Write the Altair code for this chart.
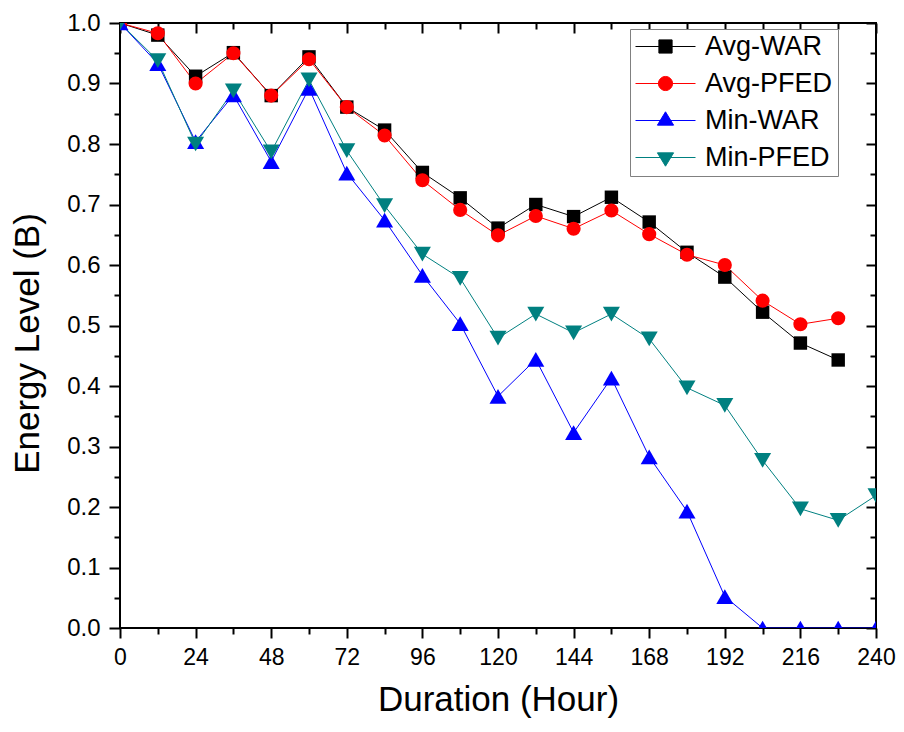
import altair as alt
import pandas as pd

hours = [0, 12, 24, 36, 48, 60, 72, 84, 96, 108, 120, 132, 144, 156, 168, 180, 192, 204, 216, 228, 240]
avg_war = [1.0, 0.98, 0.912, 0.951, 0.88, 0.944, 0.861, 0.823, 0.753, 0.711, 0.661, 0.70, 0.68, 0.712, 0.671, 0.621, 0.58, 0.522, 0.471, 0.443]
avg_pfed = [1.0, 0.983, 0.90, 0.95, 0.88, 0.94, 0.861, 0.814, 0.74, 0.691, 0.649, 0.681, 0.66, 0.69, 0.651, 0.617, 0.60, 0.541, 0.502, 0.512]
min_war = [1.0, 0.933, 0.804, 0.881, 0.771, 0.892, 0.752, 0.674, 0.583, 0.503, 0.383, 0.444, 0.323, 0.413, 0.283, 0.193, 0.052, 0.0, 0.0, 0.0, 0.0]
min_pfed = [1.0, 0.938, 0.80, 0.888, 0.787, 0.906, 0.789, 0.698, 0.618, 0.578, 0.479, 0.519, 0.488, 0.519, 0.478, 0.397, 0.368, 0.277, 0.197, 0.178, 0.219]

series_names = ["Avg-WAR", "Avg-PFED", "Min-WAR", "Min-PFED"]
series_values = [avg_war, avg_pfed, min_war, min_pfed]
series_colors = ["#000000", "#ff0000", "#0000ff", "#008080"]
series_shapes = ["square", "circle", "triangle-up", "triangle-down"]
series_sizes = [180, 200, 290, 290]

x_major = [0, 24, 48, 72, 96, 120, 144, 168, 192, 216, 240]
x_minor = [12, 36, 60, 84, 108, 132, 156, 180, 204, 228]
y_major = [0.0, 0.1, 0.2, 0.3, 0.4, 0.5, 0.6, 0.7, 0.8, 0.9, 1.0]
y_minor = [0.05, 0.15, 0.25, 0.35, 0.45, 0.55, 0.65, 0.75, 0.85, 0.95]

rows = []
for k, (name, vals) in enumerate(zip(series_names, series_values)):
    for i, v in enumerate(vals):
        rows.append({"series": name, "k": k, "hour": hours[i], "energy": v})
df = pd.DataFrame(rows)

FONT = "Liberation Sans"

# legend symbols: line segment + marker (unit square -1..1 path)
P_SQ = "M-1,0L1,0M-0.22,-0.22L0.22,-0.22L0.22,0.22L-0.22,0.22Z"
P_CI = "M-1,0L1,0M-0.235,0A0.235,0.235,0,1,0,0.235,0A0.235,0.235,0,1,0,-0.235,0Z"
P_TU = "M-1,0L1,0M0,-0.29L0.27,0.155L-0.27,0.155Z"
P_TD = "M-1,0L1,0M0,0.29L0.27,-0.155L-0.27,-0.155Z"
shape_expr = (
    "datum.value == 'Avg-WAR' ? '" + P_SQ + "' : datum.value == 'Avg-PFED' ? '" + P_CI +
    "' : datum.value == 'Min-WAR' ? '" + P_TU + "' : '" + P_TD + "'"
)
col_expr = "scale('color', datum.value)"

legend = alt.Legend(
    title=None, orient="none", legendX=510, legendY=6,
    symbolType={"expr": shape_expr},
    symbolFillColor={"expr": col_expr},
    symbolStrokeColor={"expr": col_expr},
    symbolSize=3600, symbolStrokeWidth=1, symbolOffset=0, symbolOpacity=1,
    labelFont=FONT, labelFontSize=27, labelColor="black", labelOffset=9,
    padding=5, rowPadding=9, clipHeight=25,
    strokeColor="#808080", fillColor="white", cornerRadius=0,
)

xs = alt.Scale(domain=[0, 240], nice=False, zero=False)
ys = alt.Scale(domain=[0, 1], nice=False, zero=False)
color = alt.Color("series:N", scale=alt.Scale(domain=series_names, range=series_colors), legend=legend)

common_axis = dict(grid=False, domain=False, tickColor="black", tickWidth=2)

x_axes = [
    alt.Axis(orient="bottom", values=x_major, format="d", tickSize=10, labelPadding=8,
             labelFont=FONT, labelFontSize=23, labelColor="black", labelFlush=False, labelOverlap=False,
             title="Duration (Hour)", titleFont=FONT, titleFontSize=35, titleFontWeight="normal",
             titleColor="black", titleY=82, titleBaseline="alphabetic", **common_axis),
    alt.Axis(orient="bottom", values=x_minor, tickSize=6, labels=False, title=None, **common_axis),
    alt.Axis(orient="top", values=x_major, tickSize=10, offset=-10, labels=False, title=None, **common_axis),
    alt.Axis(orient="top", values=x_minor, tickSize=6, offset=-6, labels=False, title=None, **common_axis),
]
y_axes = [
    alt.Axis(orient="left", values=y_major, format=".1f", tickSize=11, labelPadding=9,
             labelFont=FONT, labelFontSize=24, labelColor="black", labelFlush=False, labelOverlap=False,
             title="Energy Level (B)", titleFont=FONT, titleFontSize=35, titleFontWeight="normal",
             titleColor="black", titleX=-82, titleY=320, titleBaseline="alphabetic", **common_axis),
    alt.Axis(orient="left", values=y_minor, tickSize=6, labels=False, title=None, **common_axis),
    alt.Axis(orient="right", values=y_major, tickSize=10, offset=-10, labels=False, title=None, **common_axis),
    alt.Axis(orient="right", values=y_minor, tickSize=6, offset=-6, labels=False, title=None, **common_axis),
]

layers = [
    alt.Chart(df).mark_line(strokeWidth=1, clip=True).encode(
        x=alt.X("hour:Q", scale=xs, axis=None),
        y=alt.Y("energy:Q", scale=ys, axis=None),
        color=color,
        detail="series:N",
    )
]
for k, name in enumerate(series_names):
    layers.append(
        alt.Chart(df).transform_filter(alt.datum.k == k).mark_point(
            filled=True, opacity=1, clip=True, strokeWidth=0,
            shape=series_shapes[k], size=series_sizes[k],
        ).encode(
            x=alt.X("hour:Q", scale=xs, axis=x_axes[k]),
            y=alt.Y("energy:Q", scale=ys, axis=y_axes[k]),
            color=color,
        )
    )

chart = alt.layer(*layers).resolve_axis(
    x="independent", y="independent"
).properties(
    width=756, height=605,
    autosize=alt.AutoSizeParams(type="none"),
    padding={"left": 112, "top": 15, "right": 20, "bottom": 96},
    background="white",
).configure_view(stroke="black", strokeWidth=2)

chart.save("out.html", embed_options={"renderer": "svg", "actions": False})
